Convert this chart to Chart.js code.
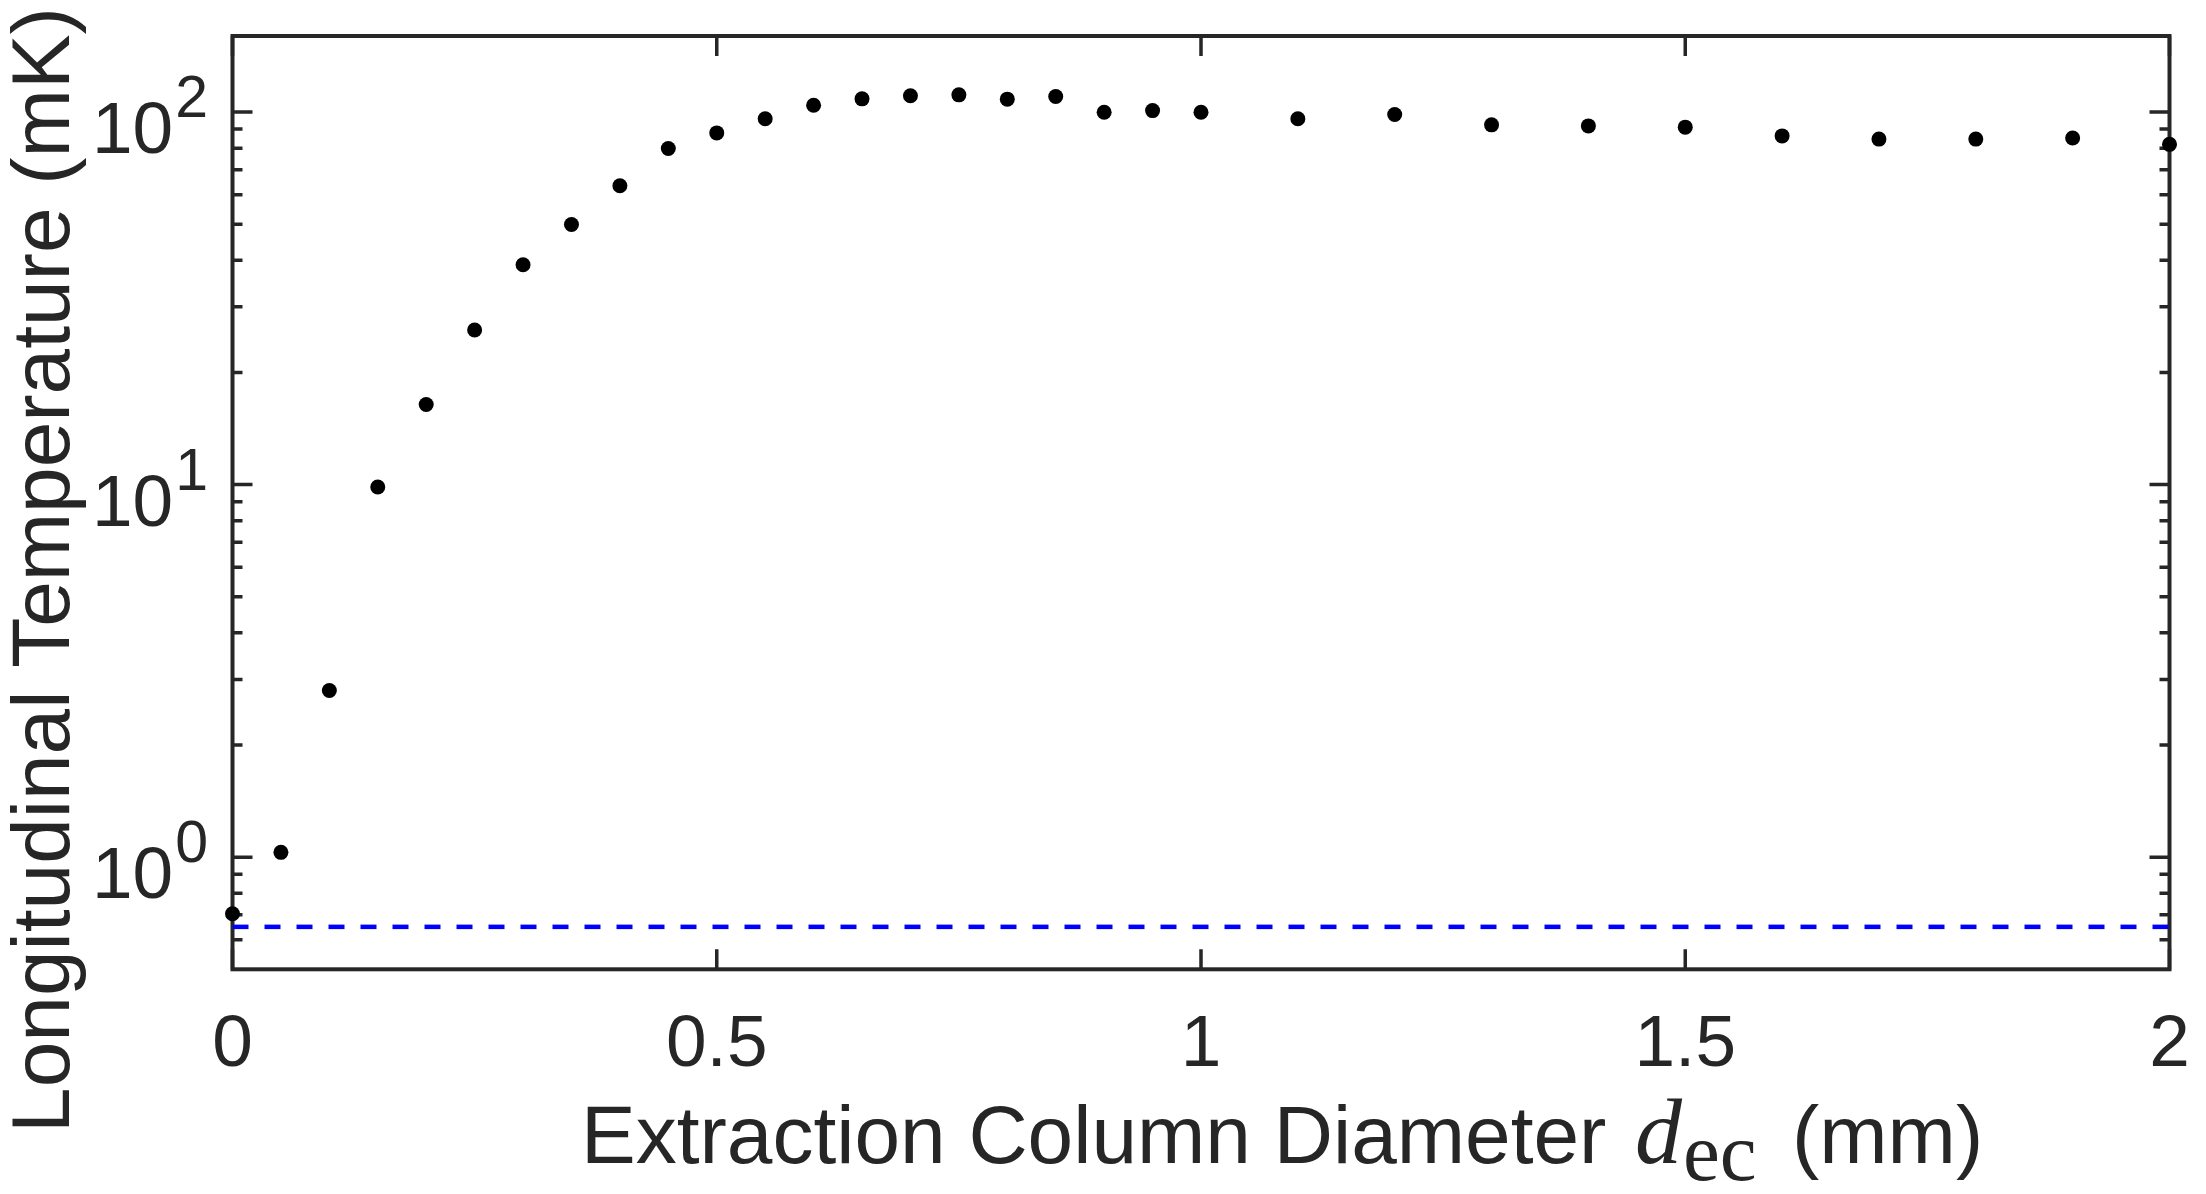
<!DOCTYPE html>
<html>
<head>
<meta charset="utf-8">
<script src="https://cdn.jsdelivr.net/npm/chart.js@4/dist/chart.umd.min.js"></script>
<style>
html,body{margin:0;padding:0;background:#ffffff;overflow:hidden}
#wrap{width:2206px;height:1194px;position:relative}
</style>
</head>
<body>
<div id="wrap"><canvas id="c" width="2206" height="1194"></canvas></div>
<script>
// ---- data ----
const diameters = [0, 0.05, 0.1, 0.15, 0.2, 0.25, 0.3, 0.35, 0.4, 0.45, 0.5, 0.55, 0.6, 0.65, 0.7, 0.75, 0.8, 0.85, 0.9, 0.95, 1.0,
                   1.1, 1.2, 1.3, 1.4, 1.5, 1.6, 1.7, 1.8, 1.9, 2.0];
const temperatures = [0.705, 1.03, 2.80, 9.85, 16.4, 26.0, 38.9, 49.9, 63.4, 79.8, 87.9, 95.9, 104.3, 108.5, 110.6, 111.2, 108.3, 110.1, 99.9, 100.9, 99.9,
                      95.9, 98.5, 92.4, 91.8, 91.1, 86.3, 84.6, 84.6, 85.2, 81.9];
const limitX = [0, 2];
const limitTemperature = [0.65, 0.65];

const xTickValues = [0, 0.5, 1, 1.5, 2];
const xTickLabels = ['0', '0.5', '1', '1.5', '2'];
const yMajorTicks = [1, 10, 100];
const yMajorExponents = ['0', '1', '2'];
const yMinorTicks = [0.6, 0.7, 0.8, 0.9, 2, 3, 4, 5, 6, 7, 8, 9, 20, 30, 40, 50, 60, 70, 80, 90];

const xTitleMain = 'Extraction Column Diameter';
const xTitleVar = 'd';
const xTitleSub = 'ec';
const xTitleUnit = '(mm)';
const yTitle = 'Longitudinal Temperature (mK)';

// ---- styling ----
const INK = '#262626';
const SANS = "'Liberation Sans', Arial, Helvetica, sans-serif";
const SERIF = "'Liberation Serif', 'Times New Roman', serif";

const axesBoxPlugin = {
  id: 'axesBox',
  beforeDatasetsDraw(chart) {
    const ctx = chart.ctx;
    const a = chart.chartArea;
    const xs = chart.scales.x, ys = chart.scales.y;
    ctx.save();
    ctx.strokeStyle = INK;
    ctx.lineCap = 'butt';
    ctx.lineWidth = 4;
    ctx.strokeRect(a.left, a.top, a.right - a.left, a.bottom - a.top);
    ctx.lineWidth = 3.5;
    ctx.beginPath();
    xTickValues.forEach(v => {
      const px = xs.getPixelForValue(v);
      ctx.moveTo(px, a.bottom); ctx.lineTo(px, a.bottom - 20);
      ctx.moveTo(px, a.top); ctx.lineTo(px, a.top + 20);
    });
    yMajorTicks.forEach(v => {
      const py = ys.getPixelForValue(v);
      ctx.moveTo(a.left, py); ctx.lineTo(a.left + 20, py);
      ctx.moveTo(a.right, py); ctx.lineTo(a.right - 20, py);
    });
    yMinorTicks.forEach(v => {
      const py = ys.getPixelForValue(v);
      ctx.moveTo(a.left, py); ctx.lineTo(a.left + 10, py);
      ctx.moveTo(a.right, py); ctx.lineTo(a.right - 10, py);
    });
    ctx.stroke();
    ctx.restore();
  },
  afterDraw(chart) {
    const ctx = chart.ctx;
    const ys = chart.scales.y;
    ctx.save();
    ctx.fillStyle = INK;
    // y tick labels 10^n
    yMajorTicks.forEach((v, i) => {
      const py = ys.getPixelForValue(v);
      ctx.textAlign = 'right';
      ctx.textBaseline = 'alphabetic';
      ctx.font = '59px ' + SANS;
      const exp = yMajorExponents[i];
      ctx.fillText(exp, 208, py + 5);
      const w = ctx.measureText(exp).width;
      ctx.font = '73px ' + SANS;
      ctx.fillText('10', 208 - w - 2, py + 41);
    });
    // x title
    ctx.textAlign = 'left';
    ctx.textBaseline = 'alphabetic';
    ctx.font = '82px ' + SANS;
    ctx.fillText(xTitleMain, 581, 1163);
    ctx.font = 'italic 94px ' + SERIF;
    ctx.fillText(xTitleVar, 1635, 1163);
    ctx.font = '83px ' + SERIF;
    ctx.fillText(xTitleSub, 1683, 1180);
    ctx.font = '82px ' + SANS;
    ctx.fillText(xTitleUnit, 1792, 1163);
    // y title
    ctx.translate(69, 570);
    ctx.rotate(-Math.PI / 2);
    ctx.textAlign = 'center';
    ctx.font = '82px ' + SANS;
    ctx.fillText(yTitle, 0, 0);
    ctx.restore();
  }
};

const chart = new Chart(document.getElementById('c'), {
  data: {
    datasets: [
      {
        type: 'scatter',
        label: 'T',
        data: diameters.map((d, i) => ({ x: d, y: temperatures[i] })),
        backgroundColor: '#000000',
        borderWidth: 0,
        pointRadius: 7.5,
        pointHoverRadius: 7.5,
        clip: false,
        order: 0
      },
      {
        type: 'line',
        label: 'limit',
        data: limitX.map((d, i) => ({ x: d, y: limitTemperature[i] })),
        borderColor: '#0000ff',
        borderWidth: 4.5,
        borderDash: [16, 16],
        pointRadius: 0,
        fill: false,
        order: 1
      }
    ]
  },
  options: {
    responsive: false,
    animation: false,
    devicePixelRatio: 1,
    layout: { padding: { top: 36, right: 36.5, left: 0, bottom: 0 } },
    plugins: { legend: { display: false }, tooltip: { enabled: false } },
    scales: {
      x: {
        type: 'linear',
        min: 0, max: 2,
        bounds: 'data',
        grid: { display: false, drawTicks: false },
        border: { display: false },
        afterBuildTicks: s => { s.ticks = xTickValues.map(v => ({ value: v })); },
        afterFit: s => { s.height = 224.7; s.paddingLeft = 0; s.paddingRight = 0; },
        ticks: {
          autoSkip: false, maxRotation: 0, minRotation: 0,
          padding: 33,
          color: INK,
          font: { family: SANS, size: 73, lineHeight: 1.2 },
          callback: (v, i) => xTickLabels[i]
        }
      },
      y: {
        type: 'logarithmic',
        min: 0.5, max: 160,
        bounds: 'data',
        grid: { display: false, drawTicks: false },
        border: { display: false },
        afterFit: s => { s.width = 232.5; s.paddingTop = 0; s.paddingBottom = 0; },
        ticks: { display: false }
      }
    }
  },
  plugins: [axesBoxPlugin]
});
</script>
</body>
</html>
